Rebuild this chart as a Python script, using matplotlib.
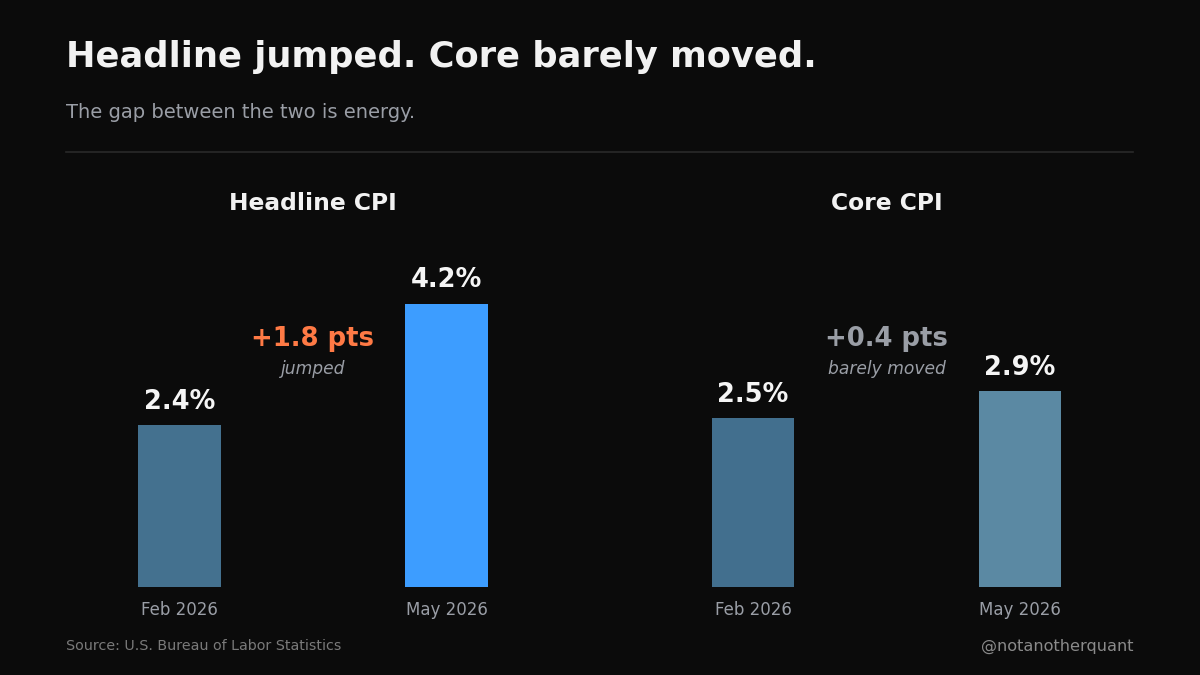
import matplotlib.pyplot as plt

plt.rcParams["font.family"] = ["DejaVu Sans"]

# values
periods = ["Feb 2026", "May 2026"]
headline = [2.4, 4.2]
core = [2.5, 2.9]
panel_titles = ["Headline CPI", "Core CPI"]
change_labels = ["+1.8 pts", "+0.4 pts"]
change_notes = ["jumped", "barely moved"]

BG = "#0b0b0b"
GREY = "#9a9ea6"
headline_colors = ["#44718f", "#3d9dff"]
core_colors = ["#426f8e", "#5b89a3"]
change_colors = ["#ff7a45", GREY]

fig = plt.figure(figsize=(12, 6.75), dpi=100, facecolor=BG)

fig.text(66 / 1200, 1 - 57 / 675, "Headline jumped. Core barely moved.",
         color="#f2f2f2", fontsize=25.4, fontweight="bold", va="center", ha="left")
fig.text(66 / 1200, 1 - 112 / 675, "The gap between the two is energy.",
         color=GREY, fontsize=14, va="center", ha="left")
fig.add_artist(plt.Line2D([66 / 1200, 1133 / 1200], [1 - 152 / 675] * 2,
                          color="#2a2a2a", lw=1.2, transform=fig.transFigure))

bottom = 1 - 587 / 675
height = 337.5 / 675  # ylim 0..5 at 67.5 px per point
width = 494 / 1200
lefts = [66 / 1200, 639.5 / 1200]

for i, (vals, cols) in enumerate([(headline, headline_colors), (core, core_colors)]):
    ax = fig.add_axes([lefts[i], bottom, width, height])
    ax.set_facecolor(BG)
    x = [0, 1]
    ax.bar(x, vals, width=0.31, color=cols)
    ax.set_xlim(-0.425, 1.425)
    ax.set_ylim(0, 5)
    for xi, v in zip(x, vals):
        ax.text(xi, v + 0.15, f"{v:.1f}%", ha="center", va="bottom",
                color="#f5f5f5", fontsize=18.5, fontweight="bold")
    ax.set_xticks(x)
    ax.set_xticklabels(periods, color=GREY, fontsize=12)
    ax.tick_params(axis="x", length=0, pad=10)
    ax.set_yticks([])
    for s in ax.spines.values():
        s.set_visible(False)
    ax.text(0.5, (587 - 203) / 67.5, panel_titles[i], ha="center", va="center",
            color="#f2f2f2", fontsize=16.8, fontweight="bold")
    ax.text(0.5, (587 - 339) / 67.5, change_labels[i], ha="center", va="center",
            color=change_colors[i], fontsize=18.6, fontweight="bold")
    ax.text(0.5, (587 - 369) / 67.5, change_notes[i], ha="center", va="center",
            color=GREY, fontsize=12.3, fontstyle="italic")

fig.text(66 / 1200, 1 - 646 / 675, "Source: U.S. Bureau of Labor Statistics",
         color="#7a7a7a", fontsize=10.3, va="center", ha="left")
fig.text(1133 / 1200, 1 - 646 / 675, "@notanotherquant",
         color="#8a8a8a", fontsize=11.6, va="center", ha="right")

fig.savefig("out.png", dpi=100, facecolor=BG)
